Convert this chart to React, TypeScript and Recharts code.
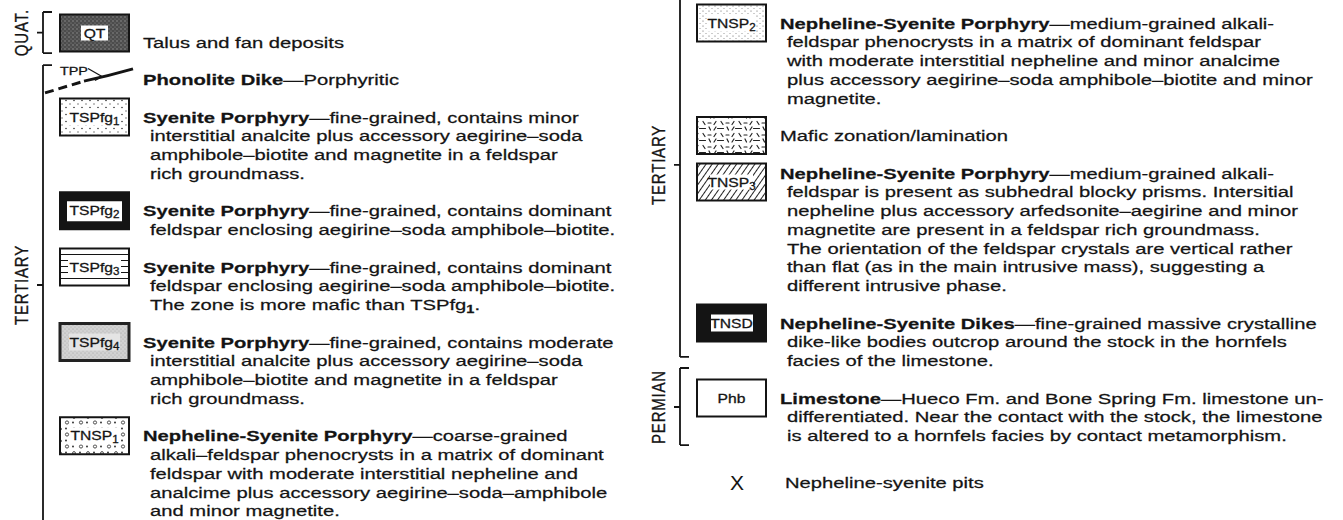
import React from 'react';
import { ScatterChart, Scatter, XAxis, YAxis } from 'recharts';

// ---------------- DATA ----------------
type Unit = { key: string; code: string; sub: string; title: string; lines: string[] };

const leftUnits: Unit[] = [
  { key: 'QT', code: 'QT', sub: '', title: '', lines: ['Talus and fan deposits'] },
  { key: 'TPP', code: 'TPP', sub: '', title: 'Phonolite Dike', lines: ['—Porphyritic'] },
  {
    key: 'TSPfg1', code: 'TSPfg', sub: '1', title: 'Syenite Porphyry',
    lines: ['—fine-grained, contains minor', 'interstitial analcite plus accessory aegirine–soda', 'amphibole–biotite and magnetite in a feldspar', 'rich groundmass.'],
  },
  {
    key: 'TSPfg2', code: 'TSPfg', sub: '2', title: 'Syenite Porphyry',
    lines: ['—fine-grained, contains dominant', 'feldspar enclosing aegirine–soda amphibole–biotite.'],
  },
  {
    key: 'TSPfg3', code: 'TSPfg', sub: '3', title: 'Syenite Porphyry',
    lines: ['—fine-grained, contains dominant', 'feldspar enclosing aegirine–soda amphibole–biotite.', 'The zone is more mafic than TSPfg_1.'],
  },
  {
    key: 'TSPfg4', code: 'TSPfg', sub: '4', title: 'Syenite Porphyry',
    lines: ['—fine-grained, contains moderate', 'interstitial analcite plus accessory aegirine–soda', 'amphibole–biotite and magnetite in a feldspar', 'rich groundmass.'],
  },
  {
    key: 'TNSP1', code: 'TNSP', sub: '1', title: 'Nepheline-Syenite Porphyry',
    lines: ['—coarse-grained', 'alkali–feldspar phenocrysts in a matrix of dominant', 'feldspar with moderate interstitial nepheline and', 'analcime plus accessory aegirine–soda–amphibole', 'and minor magnetite.'],
  },
];

const rightUnits: Unit[] = [
  {
    key: 'TNSP2', code: 'TNSP', sub: '2', title: 'Nepheline-Syenite Porphyry',
    lines: ['—medium-grained alkali-', 'feldspar phenocrysts in a matrix of dominant feldspar', 'with moderate interstitial nepheline and minor analcime', 'plus accessory aegirine–soda amphibole–biotite and minor', 'magnetite.'],
  },
  { key: 'MAFIC', code: '', sub: '', title: '', lines: ['Mafic zonation/lamination'] },
  {
    key: 'TNSP3', code: 'TNSP', sub: '3', title: 'Nepheline-Syenite Porphyry',
    lines: ['—medium-grained alkali-', 'feldspar is present as subhedral blocky prisms. Intersitial', 'nepheline plus accessory arfedsonite–aegirine and minor', 'magnetite are present in a feldspar rich groundmass.', 'The orientation of the feldspar crystals are vertical rather', 'than flat (as in the main intrusive mass), suggesting a', 'different intrusive phase.'],
  },
  {
    key: 'TNSD', code: 'TNSD', sub: '', title: 'Nepheline-Syenite Dikes',
    lines: ['—fine-grained massive crystalline', 'dike-like bodies outcrop around the stock in the hornfels', 'facies of the limestone.'],
  },
  {
    key: 'Phb', code: 'Phb', sub: '', title: 'Limestone',
    lines: ['—Hueco Fm. and Bone Spring Fm. limestone un-', 'differentiated. Near the contact with the stock, the limestone', 'is altered to a hornfels facies by contact metamorphism.'],
  },
  { key: 'X', code: 'X', sub: '', title: '', lines: ['Nepheline-syenite pits'] },
];

const leftEras = ['QUAT.', 'TERTIARY'];
const rightEras = ['TERTIARY', 'PERMIAN'];

// ---------------- LAYOUT ----------------
const W = 1343;
const H = 520;
const SLOT_PX = 18.75; // one text line
const COL_X0 = 60; // left edge of swatch column 0
const COL_STEP = 637; // distance between columns
const Y0_LEFT = 42;
const Y0_RIGHT = 23;
const BOX_W = 69;
const BOX_H = 37;
const TEXT_DX = 83;
const INDENT = 7;
const FS = 15.5;
const SX = 1.305;
const FONT = "'Liberation Sans', Arial, Helvetica, sans-serif";
const INK = '#141414';
const TEXT_STROKE = 0.25;

// era bracket spans, in line slots of their column
const leftEraSpans = [
  { top: -1.6, mid: -0.5, bottom: 0.59, openTop: false, openBottom: false },
  { top: 1.23, mid: 12.96, bottom: 26.6, openTop: false, openBottom: true },
];
const rightEraSpans = [
  { top: -2.3, mid: 7.57, bottom: 17.81, openTop: true, openBottom: false },
  { top: 18.4, mid: 20.48, bottom: 22.51, openTop: false, openBottom: false },
];
const BOX_SHIFT: Record<string, number> = { QT: -9, TNSP3: 9 };

function layoutRows(units: Unit[], col: number) {
  let slot = 0;
  return units.map((u) => {
    if (u.key === 'X') slot += 0.5;
    const row = { ...u, col, slot };
    slot += u.lines.length + 1;
    return row;
  });
}

const leftRows = layoutRows(leftUnits, 0);
const rightRows = layoutRows(rightUnits, 1);
const leftEraRows = leftEras.map((name, i) => ({ name, col: 0, slot: leftEraSpans[i].mid, ...leftEraSpans[i] }));
const rightEraRows = rightEras.map((name, i) => ({ name, col: 1, slot: rightEraSpans[i].mid, ...rightEraSpans[i] }));

// ---------------- RENDERING ----------------
function rich(line: string, fs: number) {
  const parts = line.split(/_(\d)/);
  const out: React.ReactNode[] = [];
  let shifted = false;
  parts.forEach((p, i) => {
    if (i % 2 === 1) {
      out.push(
        <tspan key={i} fontSize={fs * 0.72} dy={fs * 0.22} fontWeight="bold">
          {p}
        </tspan>
      );
      shifted = true;
    } else if (p) {
      out.push(
        <tspan key={i} dy={shifted ? -fs * 0.22 : undefined}>
          {p}
        </tspan>
      );
      shifted = false;
    }
  });
  return out;
}

function BoxLabel({ x, y, code, sub }: { x: number; y: number; code: string; sub: string }) {
  return (
    <text
      transform={`translate(${x},${y + 4.6}) scale(1.16,1)`}
      textAnchor="middle"
      fontSize={13.5}
      fontFamily={FONT}
      fill={INK}
      stroke={INK}
      strokeWidth={0.3}
    >
      {code}
      {sub ? (
        <tspan fontSize={10} dy={3}>
          {sub}
        </tspan>
      ) : null}
    </text>
  );
}

function Swatch({ row, bx, by }: { row: any; bx: number; by: number }) {
  const cxm = bx + BOX_W / 2;
  const cym = by + BOX_H / 2;
  const border = { stroke: INK, strokeWidth: 2 };
  const label = <BoxLabel x={cxm} y={cym} code={row.code} sub={row.sub} />;
  switch (row.key) {
    case 'QT':
      return (
        <g>
          <rect x={bx} y={by} width={BOX_W} height={BOX_H} fill="url(#p-qt)" {...border} />
          <rect x={bx + 21} y={by + 11} width={27} height={15} fill="#fff" />
          {label}
        </g>
      );
    case 'TSPfg1':
      return (
        <g>
          <rect x={bx} y={by} width={BOX_W} height={BOX_H} fill="url(#p-dots)" {...border} />
          <rect x={bx + 9} y={by + 10} width={51} height={17} fill="#fff" />
          {label}
        </g>
      );
    case 'TSPfg2':
      return (
        <g>
          <rect x={bx} y={by} width={BOX_W} height={BOX_H} fill={INK} {...border} />
          <rect x={bx + 7} y={by + 9} width={BOX_W - 14} height={BOX_H - 17} fill="#fff" />
          {label}
        </g>
      );
    case 'TSPfg3':
      return (
        <g>
          <rect x={bx} y={by} width={BOX_W} height={BOX_H} fill="#fff" {...border} />
          {[6, 12, 18, 24, 30].map((d) => (
            <line key={d} x1={bx} x2={bx + BOX_W} y1={by + d} y2={by + d} stroke={INK} strokeWidth={1} />
          ))}
          <rect x={bx + 8} y={by + 10} width={53} height={17} fill="#fff" />
          {label}
        </g>
      );
    case 'TSPfg4':
      return (
        <g>
          <rect x={bx} y={by} width={BOX_W} height={BOX_H} fill="url(#p-gray)" stroke="#222" strokeWidth={3} />
          <rect x={bx + 9} y={by + 10} width={51} height={17} fill="#e4e4e4" />
          {label}
        </g>
      );
    case 'TNSP1':
      return (
        <g>
          <rect x={bx} y={by} width={BOX_W} height={BOX_H} fill="url(#p-circ)" {...border} />
          <rect x={bx + 11} y={by + 10} width={47} height={17} fill="#fff" />
          {label}
        </g>
      );
    case 'TNSP2':
      return (
        <g>
          <rect x={bx} y={by} width={BOX_W} height={BOX_H} fill="url(#p-fine)" {...border} />
          <rect x={bx + 11} y={by + 10} width={47} height={17} fill="#fff" />
          {label}
        </g>
      );
    case 'MAFIC':
      return <rect x={bx} y={by} width={BOX_W} height={BOX_H} fill="url(#p-mafic)" {...border} />;
    case 'TNSP3':
      return (
        <g>
          <rect x={bx} y={by} width={BOX_W} height={BOX_H} fill="url(#p-hatch)" {...border} />
          <rect x={bx + 13} y={by + 11} width={43} height={15} fill="#fff" />
          {label}
        </g>
      );
    case 'TNSD':
      return (
        <g>
          <rect x={bx} y={by} width={BOX_W} height={BOX_H} fill={INK} {...border} />
          <rect x={bx + 14} y={by + 10} width={42} height={17} fill="#fff" />
          {label}
        </g>
      );
    case 'Phb':
      return (
        <g>
          <rect x={bx} y={by} width={BOX_W} height={BOX_H} fill="#fff" {...border} />
          {label}
        </g>
      );
    default:
      return null;
  }
}

function UnitShape(props: any) {
  const { cx, cy, payload } = props;
  if (cx == null || cy == null || !payload) return null;
  const bx = cx;
  const by = cy - BOX_H / 2 + (BOX_SHIFT[payload.key] || 0);
  let symbol: React.ReactNode = null;
  if (payload.key === 'TPP') {
    symbol = (
      <g>
        <text
          transform={`translate(${cx},${cy - 5}) scale(1.25,1)`}
          fontSize={11.5}
          fontFamily={FONT}
          fill={INK}
          stroke={INK}
          strokeWidth={0.3}
        >
          TPP
        </text>
        <line x1={cx + 28} y1={cy - 11} x2={cx + 42} y2={cy - 3} stroke={INK} strokeWidth={1.3} />
        <line x1={cx + 42} y1={cy - 3} x2={cx + 35} y2={cy + 1} stroke={INK} strokeWidth={1.2} />
        <line x1={cx - 15} y1={cy + 13.4} x2={cx + 25} y2={cy + 1.4} stroke={INK} strokeWidth={3} strokeDasharray="9 5" />
        <path d={`M ${cx + 24} ${cy + 1.6} Q ${cx + 50} ${cy - 4} ${cx + 73} ${cy - 10.6}`} stroke={INK} strokeWidth={3} fill="none" />
      </g>
    );
  } else if (payload.key === 'X') {
    symbol = (
      <text x={cx + 40} y={cy + 7.5} textAnchor="middle" fontSize={21} fontFamily={FONT} fill={INK}>
        X
      </text>
    );
  } else {
    symbol = <Swatch row={payload} bx={bx} by={by} />;
  }
  const textX0 = cx + TEXT_DX + (payload.key === 'X' ? 5 : 0);
  return (
    <g>
      {symbol}
      {payload.lines.map((ln: string, i: number) => {
        const x = textX0 + (i > 0 ? INDENT : 0);
        const y = cy + i * SLOT_PX + 0.36 * FS;
        return (
          <text
            key={i}
            transform={`translate(${x},${y}) scale(${SX},1)`}
            fontSize={FS}
            fontFamily={FONT}
            fill={INK}
            stroke={INK}
            strokeWidth={TEXT_STROKE}
          >
            {i === 0 && payload.title ? <tspan fontWeight="bold">{payload.title}</tspan> : null}
            {rich(ln, FS)}
          </text>
        );
      })}
    </g>
  );
}

function EraShape(props: any) {
  const { cx, cy, payload } = props;
  if (cx == null || cy == null || !payload) return null;
  const x = cx - 17;
  const top = cy + (payload.top - payload.mid) * SLOT_PX;
  const bot = cy + (payload.bottom - payload.mid) * SLOT_PX;
  let d = `M ${x} ${top} L ${x} ${bot} M ${x - 6} ${cy} L ${x} ${cy}`;
  if (!payload.openTop) d += ` M ${x} ${top} L ${x + 9} ${top}`;
  if (!payload.openBottom) d += ` M ${x} ${bot} L ${x + 9} ${bot}`;
  return (
    <g>
      <path d={d} stroke={INK} strokeWidth={1.8} fill="none" />
      <text
        transform={`translate(${cx - 38},${cy}) scale(1.25,1) rotate(-90)`}
        textAnchor="middle"
        dominantBaseline="central"
        fontSize={15}
        letterSpacing={0.8}
        fontFamily={FONT}
        fill={INK}
        stroke={INK}
        strokeWidth={0.25}
      >
        {payload.name}
      </text>
    </g>
  );
}

export default function App() {
  const xDomain = [-COL_X0 / COL_STEP, (W - COL_X0) / COL_STEP];
  const yLeft = [-Y0_LEFT / SLOT_PX, (H - Y0_LEFT) / SLOT_PX];
  const yRight = [-Y0_RIGHT / SLOT_PX, (H - Y0_RIGHT) / SLOT_PX];
  return (
    <div style={{ width: W, height: H, background: '#fff' }}>
      <style>{'body{margin:0;background:#fff}'}</style>
      <ScatterChart width={W} height={H} margin={{ top: 0, right: 0, bottom: 0, left: 0 }}>
        <defs>
          <pattern id="p-qt" width="4" height="4" patternUnits="userSpaceOnUse">
            <rect width="4" height="4" fill="#4c4c4c" />
            <circle cx="1" cy="1" r="0.7" fill="#9a9a9a" />
            <circle cx="3" cy="3" r="0.6" fill="#8a8a8a" />
          </pattern>
          <pattern id="p-gray" width="4" height="4" patternUnits="userSpaceOnUse">
            <rect width="4" height="4" fill="#d2d2d2" />
            <circle cx="1" cy="1" r="0.55" fill="#9c9c9c" />
            <circle cx="3" cy="3" r="0.5" fill="#a8a8a8" />
          </pattern>
          <pattern id="p-dots" width="8" height="7" patternUnits="userSpaceOnUse">
            <rect width="8" height="7" fill="#fff" />
            <circle cx="2" cy="2.5" r="0.8" fill="#333" />
            <circle cx="6" cy="6" r="0.7" fill="#555" />
          </pattern>
          <pattern id="p-fine" width="6" height="5" patternUnits="userSpaceOnUse">
            <rect width="6" height="5" fill="#fff" />
            <circle cx="1" cy="1" r="0.55" fill="#555" />
            <circle cx="4" cy="3.5" r="0.5" fill="#777" />
          </pattern>
          <pattern id="p-circ" width="14" height="12" patternUnits="userSpaceOnUse">
            <rect width="14" height="12" fill="#fff" />
            <circle cx="3" cy="2.5" r="0.9" fill="#222" />
            <circle cx="10" cy="8.5" r="0.9" fill="#222" />
            <circle cx="11" cy="2.5" r="1.6" fill="none" stroke="#222" strokeWidth="0.8" />
            <circle cx="4" cy="9" r="1.4" fill="none" stroke="#222" strokeWidth="0.8" />
          </pattern>
          <pattern id="p-mafic" width="18" height="12" patternUnits="userSpaceOnUse">
            <rect width="18" height="12" fill="#fff" />
            <g stroke="#222" strokeWidth="1.2" strokeLinecap="round">
              <line x1="1" y1="1.5" x2="3" y2="4.5" />
              <line x1="6" y1="3" x2="9" y2="3" />
              <line x1="12" y1="4.5" x2="14" y2="1.5" />
              <line x1="0.5" y1="8.5" x2="3.5" y2="8.5" />
              <line x1="7" y1="7" x2="8.5" y2="10" />
              <line x1="12" y1="10" x2="14" y2="7" />
              <line x1="15.5" y1="8.5" x2="17.5" y2="8.5" />
            </g>
          </pattern>
          <pattern id="p-hatch" width="5" height="5" patternUnits="userSpaceOnUse" patternTransform="rotate(35)">
            <rect width="5" height="5" fill="#fff" />
            <line x1="2.5" y1="0" x2="2.5" y2="5" stroke="#222" strokeWidth="1" />
          </pattern>
        </defs>
        <XAxis type="number" dataKey="col" domain={xDomain} allowDataOverflow hide />
        <YAxis yAxisId="L" type="number" dataKey="slot" domain={yLeft} reversed allowDataOverflow hide />
        <YAxis yAxisId="R" type="number" dataKey="slot" domain={yRight} reversed allowDataOverflow hide />
        <Scatter yAxisId="L" data={leftEraRows} shape={EraShape} isAnimationActive={false} />
        <Scatter yAxisId="R" data={rightEraRows} shape={EraShape} isAnimationActive={false} />
        <Scatter yAxisId="L" data={leftRows} shape={UnitShape} isAnimationActive={false} />
        <Scatter yAxisId="R" data={rightRows} shape={UnitShape} isAnimationActive={false} />
      </ScatterChart>
    </div>
  );
}
